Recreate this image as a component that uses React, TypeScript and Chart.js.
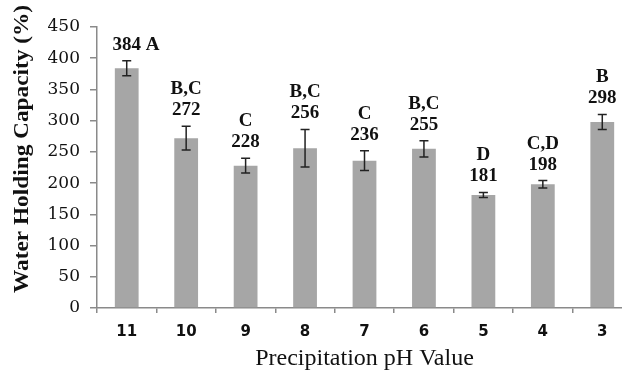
import React, { useEffect, useRef } from "react";
import { Chart, registerables } from "chart.js";

Chart.register(...registerables);

const categories = ["11", "10", "9", "8", "7", "6", "5", "4", "3"];
const values = [384, 272, 228, 256, 236, 255, 181, 198, 298];
const errors = [12, 19, 12, 30, 16, 13, 4, 6, 12];
const groupLetters = ["A", "B,C", "C", "B,C", "C", "B,C", "D", "C,D", "B"];
const letterInline = [true, false, false, false, false, false, false, false, false];
const yMin = 0;
const yMax = 450;
const yStep = 50;
const xTitle = "Precipitation pH Value";
const yTitle = "Water Holding Capacity (%)";

const annotPlugin = {
  id: "annot",
  afterDatasetsDraw(chart: any) {
    const ctx = chart.ctx;
    const xs = chart.scales.x;
    const ys = chart.scales.y;
    ctx.save();
    values.forEach((v, i) => {
      const cx = xs.getPixelForValue(i);
      const top = ys.getPixelForValue(v + errors[i]);
      const bot = ys.getPixelForValue(v - errors[i]);
      ctx.strokeStyle = "#222";
      ctx.lineWidth = 1.5;
      ctx.beginPath();
      ctx.moveTo(cx, top);
      ctx.lineTo(cx, bot);
      ctx.moveTo(cx - 4.5, top);
      ctx.lineTo(cx + 4.5, top);
      ctx.moveTo(cx - 4.5, bot);
      ctx.lineTo(cx + 4.5, bot);
      ctx.stroke();

      ctx.font = "bold 19px 'Liberation Serif', serif";
      ctx.fillStyle = "#111";
      ctx.textBaseline = "alphabetic";
      ctx.textAlign = "center";
      const nb = top - 11;
      const num = String(v);
      ctx.fillText(num, cx, nb);
      if (letterInline[i]) {
        const w = ctx.measureText(num).width;
        ctx.textAlign = "left";
        ctx.fillText(" " + groupLetters[i], cx + w / 2, nb);
      } else {
        ctx.fillText(groupLetters[i], cx, nb - 21);
      }
    });

    // axis titles
    const area = chart.chartArea;
    ctx.fillStyle = "#111";
    ctx.font = "24px 'Liberation Serif', serif";
    ctx.textAlign = "center";
    ctx.textBaseline = "alphabetic";
    ctx.fillText(xTitle, (area.left + area.right) / 2, 365);

    ctx.save();
    ctx.translate(28, 293);
    ctx.rotate(-Math.PI / 2);
    ctx.scale(1.11, 1);
    ctx.font = "bold 21px 'Liberation Serif', serif";
    ctx.textAlign = "left";
    ctx.fillText(yTitle, 0, 0);
    ctx.restore();

    ctx.restore();
  },
};

export default function App() {
  const ref = useRef<HTMLCanvasElement | null>(null);

  useEffect(() => {
    document.documentElement.style.overflow = "hidden";
    document.body.style.overflow = "hidden";
    const canvas = ref.current;
    if (!canvas) return;
    const axisColor = "#8a8a8a";
    const chart = new Chart(canvas, {
      type: "bar",
      data: {
        labels: categories,
        datasets: [
          {
            data: values,
            backgroundColor: "#a6a6a6",
            borderWidth: 0,
            categoryPercentage: 1,
            barPercentage: 0.4,
          },
        ],
      },
      options: {
        responsive: false,
        animation: false,
        devicePixelRatio: 1,
        layout: { padding: { left: 0, right: 48, top: 27, bottom: 0 } },
        plugins: {
          legend: { display: false },
          tooltip: { enabled: false },
          title: { display: false },
        },
        scales: {
          x: {
            grid: {
              display: true,
              drawOnChartArea: false,
              drawTicks: true,
              tickLength: 5,
              color: axisColor,
              lineWidth: 1.5,
              offset: true,
            },
            border: { display: true, color: axisColor, width: 1.5 },
            ticks: {
              font: { family: "'DejaVu Sans', sans-serif", size: 15, weight: "bold" },
              color: "#111",
              padding: 10,
              maxRotation: 0,
              autoSkip: false,
            },
            afterFit: (s: any) => {
              s.height = 63;
            },
          },
          y: {
            min: yMin,
            max: yMax,
            ticks: {
              stepSize: yStep,
              font: { family: "'DejaVu Serif', serif", size: 17 },
              color: "#111",
              padding: 10,
            },
            grid: {
              display: true,
              drawOnChartArea: false,
              drawTicks: true,
              tickLength: 7,
              color: axisColor,
              lineWidth: 1.5,
            },
            border: { display: true, color: axisColor, width: 1.5 },
            afterFit: (s: any) => {
              s.width = 97;
            },
          },
        },
      },
      plugins: [annotPlugin],
    });
    return () => chart.destroy();
  }, []);

  return (
    <div
      style={{
        position: "absolute",
        left: 0,
        top: 0,
        width: 622,
        height: 371,
        overflow: "hidden",
        background: "#fff",
      }}
    >
      <canvas ref={ref} width={680} height={371} style={{ width: 680, height: 371, display: "block" }} />
    </div>
  );
}
